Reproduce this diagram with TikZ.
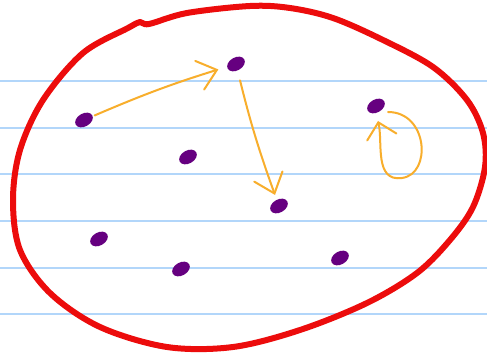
\documentclass[tikz,border=0pt]{standalone}
\usepackage{tikz}
\usetikzlibrary{
    arrows.meta,
    shapes.geometric
}
\definecolor{dotpurple}{RGB}{102,0,128}
\definecolor{setred}{RGB}{236,12,12}
\definecolor{linkorange}{RGB}{248,174,44}
\definecolor{ruleblue}{RGB}{178,214,250}

\begin{document}
\begin{tikzpicture}[
    x=1pt, y=-1pt,
    dot/.style={
        ellipse, fill=dotpurple, draw=none, inner sep=0pt,
        minimum width=19pt, minimum height=13pt, rotate=30
    },
    ruleline/.style={draw=ruleblue, line width=1.4pt},
    setline/.style={draw=setred, line width=6pt, line cap=round, line join=round},
    link/.style={
        draw=linkorange, line width=2pt, line cap=round,
        -{Straight Barb[length=18pt, width=30pt, line width=2pt, line cap=round]}
    }
]

% Paper background with ruled lines
\useasboundingbox[fill=white] (0,0) rectangle (487,355);
\foreach \y in {81,128,174,221,268,314}
    \draw[ruleline] (0,\y) -- (487,\y);

% The set (hand-drawn outline)
\draw[setline] plot[smooth cycle, tension=0.55] coordinates {
    (128,28) (140,22) (149,24) (187,13) (250,6) (290,8) (333,18) (383,40)
    (433,67) (467,100) (483,133) (485,167) (473,207) (450,240) (417,273)
    (367,303) (300,330) (233,347) (167,347) (100,327) (50,293)
    (20,250) (13,200) (20,150) (43,100) (83,53)
};

% Elements
\node[dot] (a) at (84,120) {};
\node[dot] (b) at (236,64) {};
\node[dot] (c) at (188,157) {};
\node[dot] (d) at (279,206) {};
\node[dot] (e) at (376,106) {};
\node[dot] (f) at (99,239) {};
\node[dot] (g) at (181,269) {};
\node[dot] (h) at (340,258) {};

% ends of the self-loop on e
\coordinate (e_out) at (388,112);
\coordinate (e_in) at (378,121);

% ------------------------------- Arrows --------------------------------------
\draw[link, shorten <=2pt, shorten >=9pt] (a) to[bend left=3] (b);
\draw[link, shorten <=10pt, shorten >=5pt] (b) to[bend right=3] (d);
\draw[link, -{Straight Barb[length=15pt, width=30pt, line width=2pt, line cap=round]}]
    (e_out) .. controls (428,112) and (432,174) .. (402,178)
    .. controls (374,182) and (383,142) .. (e_in);

\end{tikzpicture}
\end{document}
